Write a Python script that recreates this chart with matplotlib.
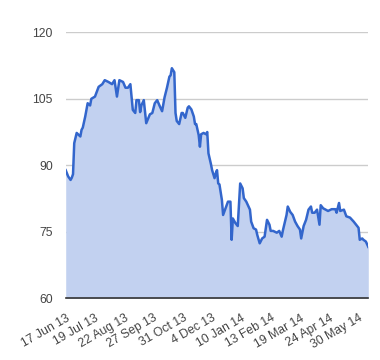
import matplotlib
matplotlib.use("Agg")
import matplotlib.pyplot as plt
import numpy as np

# trading-day index of each sampled point
day_idx = [0, 2, 4, 5, 6, 7, 9, 12, 13, 14, 16, 18, 20, 21, 24, 27, 30, 32, 35, 38,
           40, 42, 44, 47, 49, 51, 53, 55, 57, 58, 60, 61, 62, 64, 66, 69, 71, 73, 75, 77,
           79, 81, 83, 85, 86, 87, 89, 90, 91, 93, 95, 96, 98, 100, 101, 103, 105, 106, 107, 109,
           110, 111, 113, 115, 116, 117, 119, 120, 122, 123, 124, 125, 126, 128, 129, 131, 133, 135, 136, 137,
           139, 141, 142, 143, 145, 146, 148, 151, 152, 154, 156, 157, 159, 161, 163, 165, 167, 168, 170, 173,
           175, 177, 178, 181, 182, 184, 186, 188, 190, 192, 193, 195, 197, 199, 201, 202, 204, 206, 208, 209,
           211, 213, 215, 218, 221, 222, 224, 225, 228, 230, 233, 236, 238, 240, 241, 243, 244, 246, 248]
values = [88.9, 87.5, 86.7, 87.2, 88.0, 95.0, 97.3, 96.5, 98.0, 98.5, 101.0, 104.0, 103.5, 105.0, 105.5, 107.7, 108.3, 109.2, 108.8, 108.3,
          109.2, 105.5, 109.2, 108.8, 107.5, 107.5, 108.3, 102.5, 101.8, 104.7, 104.7, 102.0, 103.5, 104.7, 99.5, 101.5, 101.8, 104.0, 104.7, 103.4,
          102.2, 105.3, 107.5, 110.0, 110.3, 111.9, 111.0, 101.8, 100.0, 99.3, 101.8, 101.8, 100.7, 103.0, 103.3, 102.6, 101.0, 99.3, 99.3, 96.8,
          94.2, 97.0, 97.3, 97.0, 97.5, 92.7, 90.3, 88.9, 87.1, 88.2, 88.9, 85.9, 85.7, 82.2, 78.8, 80.3, 81.8, 81.8, 73.2, 78.0,
          77.0, 76.3, 81.0, 85.9, 84.8, 82.6, 81.8, 80.0, 77.3, 75.8, 75.5, 74.3, 72.4, 73.5, 73.9, 77.7, 76.6, 75.2, 75.2, 74.8,
          75.2, 73.9, 75.3, 78.8, 80.7, 79.5, 78.8, 77.3, 76.3, 75.5, 73.5, 76.3, 77.7, 80.0, 80.7, 79.3, 79.3, 80.0, 76.6, 81.0,
          80.3, 80.0, 79.7, 80.1, 80.1, 79.3, 81.5, 79.7, 80.0, 78.5, 78.2, 77.3, 76.6, 75.9, 73.2, 73.5, 73.2, 72.8, 71.6]

tick_labels = ["17 Jun 13", "19 Jul 13", "22 Aug 13", "27 Sep 13", "31 Oct 13", "4 Dec 13",
               "10 Jan 14", "13 Feb 14", "19 Mar 14", "24 Apr 14", "30 May 14"]
tick_idx = [0, 24, 48, 72, 96, 120, 144, 168, 192, 216, 240]
y_ticks = [60, 75, 90, 105, 120]

plt.rcParams['font.family'] = ['Liberation Sans', 'DejaVu Sans']

fig = plt.figure(figsize=(3.8, 3.6), dpi=100)
ax = fig.add_axes([65.7/380, 1 - 298.3/360, (368.3-65.7)/380, (298.3-32.3)/360])

ax.fill_between(day_idx, values, 60, color='#c2d1f0', linewidth=0, zorder=2)
ax.plot(day_idx, values, color='#3366cc', linewidth=1.8, zorder=3)

ax.set_xlim(0, 248)
ax.set_ylim(60, 120)
ax.set_yticks(y_ticks)
ax.set_yticklabels([str(v) for v in y_ticks])
ax.set_xticks(tick_idx)
ax.set_xticklabels(tick_labels, rotation=30, ha='right', rotation_mode='anchor')

ax.grid(axis='y', color='#cccccc', linewidth=1, zorder=1)
ax.set_axisbelow(True)
for s in ['top', 'right', 'left']:
    ax.spines[s].set_visible(False)
ax.spines['bottom'].set_color('#333333')
ax.spines['bottom'].set_linewidth(1.2)
ax.spines['bottom'].set_zorder(4)
ax.tick_params(axis='both', length=0, colors='#444444', labelsize=8.8)
ax.tick_params(axis='y', pad=9.4)
ax.tick_params(axis='x', pad=10)

fig.savefig('out.png', dpi=100)
